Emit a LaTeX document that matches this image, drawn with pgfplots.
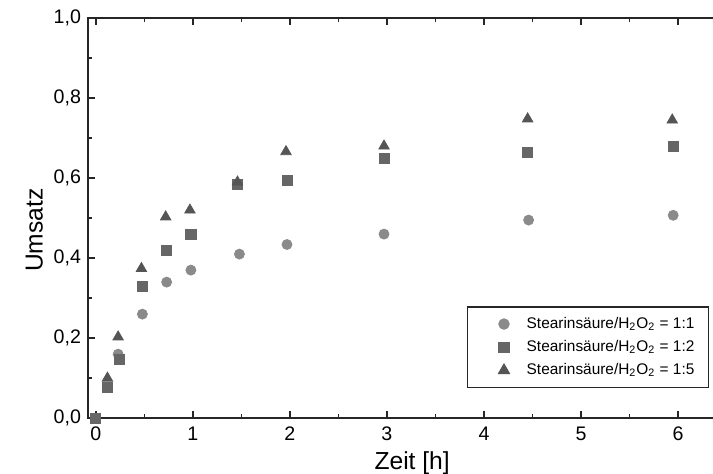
\documentclass[border=0pt]{standalone}
\usepackage{fontspec}
\setmainfont{Liberation Sans}
\usepackage{pgfplots}
\pgfplotsset{compat=1.18}
\usetikzlibrary{calc}
\definecolor{cA}{HTML}{8A8A8A}
\definecolor{cB}{HTML}{666666}
\definecolor{cC}{HTML}{555555}
\begin{document}
\begin{tikzpicture}
\begin{axis}[
  scale only axis, width=324pt, height=200pt,
  xmin=-0.08, xmax=6.6, ymin=0, ymax=1,
  axis line style={line width=1pt, black!85},
  xtick={0,1,2,3,4,5,6}, ytick={0,0.2,0.4,0.6,0.8,1},
  minor x tick num=1, minor y tick num=1,
  tick align=inside, xtick pos=both, ytick pos=left,
  major tick length=3.5pt, minor tick length=2pt,
  tick style={line width=0.8pt, black!85},
  /pgf/number format/assume math mode=true,
  ticklabel style={font=\fontsize{9.8}{11}\selectfont},
  yticklabel style={/pgf/number format/.cd, fixed, fixed zerofill, precision=1, use comma},
  xticklabel style={yshift=-1pt},
  xlabel={Zeit [h]}, ylabel={Umsatz},
  label style={font=\fontsize{12.3}{14}\selectfont},
  xlabel style={at={(rel axis cs:0.5,0)}, anchor=north, yshift=-13pt},
  ylabel style={at={(rel axis cs:0,0.47)}, anchor=south, yshift=19pt},
  legend image code/.code={\path (-13pt,0) (9pt,0); \draw[#1] plot coordinates {(0pt,0pt)};},
  legend style={at={(axis cs:6.32,0.075)}, anchor=south east, draw=black!85,
    line width=0.7pt, inner xsep=5pt, inner ysep=3pt,
    font=\fontsize{7.7}{9}\selectfont, row sep=0.5pt, cells={anchor=west}},
]
\coordinate (sw) at (axis cs:-0.08,0);
\coordinate (ne) at (axis cs:6.36,1);
\addplot[only marks, mark=square*, mark size=2.5pt, mark options={draw=cB, fill=cB}, forget plot]
  coordinates {(0,0)};
\addplot[only marks, mark=*, mark size=2.5pt, mark options={draw=cA, fill=cA}]
  coordinates {(0.23,0.16) (0.48,0.26) (0.73,0.34) (0.98,0.37) (1.48,0.41) (1.97,0.434) (2.97,0.46) (4.46,0.495) (5.95,0.507)};
\addlegendentry{Stearinsäure/H\textsubscript{2}O\textsubscript{2} = 1:1}
\addplot[only marks, mark=square*, mark size=2.5pt, mark options={draw=cB, fill=cB}]
  coordinates {(0,0) (0.12,0.078) (0.24,0.148) (0.48,0.33) (0.73,0.42) (0.98,0.46) (1.46,0.583) (1.97,0.593) (2.97,0.65) (4.45,0.665) (5.95,0.678)};
\addlegendentry{Stearinsäure/H\textsubscript{2}O\textsubscript{2} = 1:2}
\addplot[only marks, mark=triangle*, mark size=3pt, mark options={draw=cC, fill=cC}]
  coordinates {(0.12,0.10) (0.23,0.203) (0.47,0.374) (0.72,0.503) (0.97,0.52) (1.46,0.59) (1.96,0.666) (2.97,0.68) (4.45,0.748) (5.94,0.745)};
\addlegendentry{Stearinsäure/H\textsubscript{2}O\textsubscript{2} = 1:5}
\end{axis}
\pgfresetboundingbox
\path ($(sw)+(-44pt,-27.5pt)$) rectangle ($(ne)+(0,9pt)$);
\end{tikzpicture}
\end{document}
